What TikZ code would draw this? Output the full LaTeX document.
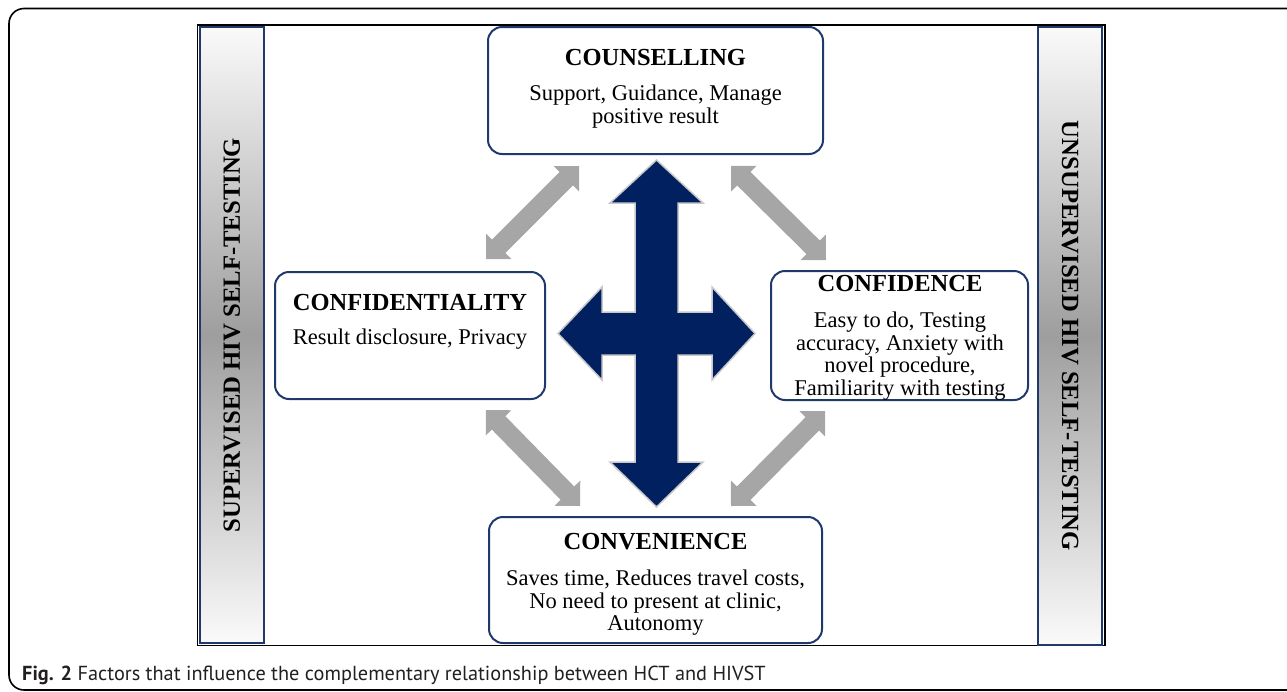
\documentclass[tikz,border=0pt]{standalone}
\usepackage{fontspec}
\setmainfont{Liberation Serif}
\newfontfamily\capfont{PT Sans}
\usetikzlibrary{calc}
\definecolor{navy}{RGB}{0,32,96}
\definecolor{boxblue}{RGB}{31,56,110}
\definecolor{arrgray}{RGB}{166,166,166}
\definecolor{crossedge}{RGB}{200,200,200}
\definecolor{bardark}{RGB}{158,158,158}
\definecolor{barlight}{RGB}{250,250,250}
\definecolor{captext}{RGB}{35,31,32}
\tikzset{
 factorbox/.style={draw=boxblue, line width=2pt, rounded corners=14pt, fill=white, inner sep=0pt},
 sidebar/.style={draw=boxblue, line width=2pt, top color=barlight, bottom color=barlight, middle color=bardark},
 titletext/.style={font=\fontsize{24.5}{26}\selectfont\bfseries, anchor=base, inner sep=0pt},
 bodytext/.style={font=\fontsize{22.5}{22.4}\selectfont, anchor=base, align=center, inner sep=0pt},
 bartext/.style={font=\fontsize{24.7}{26}\selectfont\bfseries, inner sep=0pt},
 garrow/.style={fill=arrgray},
 crossarrow/.style={fill=navy, draw=crossedge, line width=1.5pt, line join=miter},
 frameline/.style={draw=black, line width=1.6pt},
}
\newcommand\gdarrow[2]{%
 \path ($(#1)!18pt!(#2)$) coordinate (hA) ($(#2)!18pt!(#1)$) coordinate (hB);
 \fill[garrow] (#1) -- ($(hA)!18pt!90:(#2)$) -- ($(hA)!9.5pt!90:(#2)$) -- ($(hB)!9.5pt!-90:(#1)$) -- ($(hB)!18pt!-90:(#1)$) -- (#2) -- ($(hB)!18pt!90:(#1)$) -- ($(hB)!9.5pt!90:(#1)$) -- ($(hA)!9.5pt!-90:(#2)$) -- ($(hA)!18pt!-90:(#2)$) -- cycle;
}
\begin{document}
\begin{tikzpicture}[x=1pt,y=-1pt]
\useasboundingbox (0,0) rectangle (1287,691);
% outer frame
\draw[frameline, rounded corners=15pt] (1292,8.5) -- (9,8.5) -- (9,690) -- (1292,690);
% inner frame
\draw[frameline, line width=1.5pt] (197.5,25) rectangle (1105,645.5);
% side bars
\node[sidebar, minimum width=64pt, minimum height=616pt, inner sep=0pt] (lbar) at (232,335) {};
\node[sidebar, minimum width=64pt, minimum height=618pt, inner sep=0pt] (rbar) at (1070,336) {};
\node[bartext, rotate=90] (ltext) at (lbar.center) {SUPERVISED HIV SELF-TESTING};
\node[bartext, rotate=-90] (rtext) at (rbar.center) {UNSUPERVISED HIV SELF-TESTING};
% factor boxes
\node[factorbox, minimum width=335pt, minimum height=127pt] (couns) at (655.5,90.5) {};
\node[factorbox, minimum width=270pt, minimum height=127pt] (confid) at (410,335.5) {};
\node[factorbox, minimum width=257pt, minimum height=129pt] (confi) at (899.5,335.5) {};
\node[factorbox, minimum width=333pt, minimum height=126pt] (conv) at (655.5,580) {};
% texts (base anchor = baseline of the last line)
\node[titletext] (counsT) at (655.5,65) {COUNSELLING};
\node[bodytext] (counsB) at (655.5,123) {Support, Guidance, Manage\\positive result};
\node[titletext] (confidT) at (410,310) {CONFIDENTIALITY};
\node[bodytext] (confidB) at (410,344) {Result disclosure, Privacy};
\node[titletext] (confiT) at (900,291) {CONFIDENCE};
\node[bodytext] (confiB) at (900,395) {Easy to do, Testing\\accuracy, Anxiety with\\novel procedure,\\Familiarity with testing};
\node[titletext] (convT) at (655.5,549) {CONVENIENCE};
\node[bodytext] (convB) at (655.5,630.5) {Saves time, Reduces travel costs,\\No need to present at clinic,\\Autonomy};
% central cross arrow
\draw[crossarrow] (656.5,160) -- (703,203) -- (678,203) -- (678,312) -- (712,312) -- (712,287) -- (755,333.5) -- (712,380) -- (712,355) -- (678,355) -- (678,462) -- (703,462) -- (656.5,507) -- (610,462) -- (635,462) -- (635,355) -- (602,355) -- (602,380) -- (558,333.5) -- (602,287) -- (602,312) -- (635,312) -- (635,203) -- (610,203) -- cycle;
% grey double arrows
\coordinate (ulA) at (579,166); \coordinate (ulB) at (486,259);
\coordinate (urA) at (731,166); \coordinate (urB) at (826,260);
\coordinate (llA) at (486,410); \coordinate (llB) at (580,506);
\coordinate (lrA) at (731,506); \coordinate (lrB) at (825,411);
\gdarrow{ulA}{ulB}
\gdarrow{urA}{urB}
\gdarrow{llA}{llB}
\gdarrow{lrA}{lrB}
% caption
\node[anchor=base west, inner sep=0pt, text=captext, font=\capfont\fontsize{20.3}{24}\selectfont] (cap) at (22,680) {\textbf{Fig. 2} Factors that influence the complementary relationship between HCT and HIVST};
\end{tikzpicture}
\end{document}
